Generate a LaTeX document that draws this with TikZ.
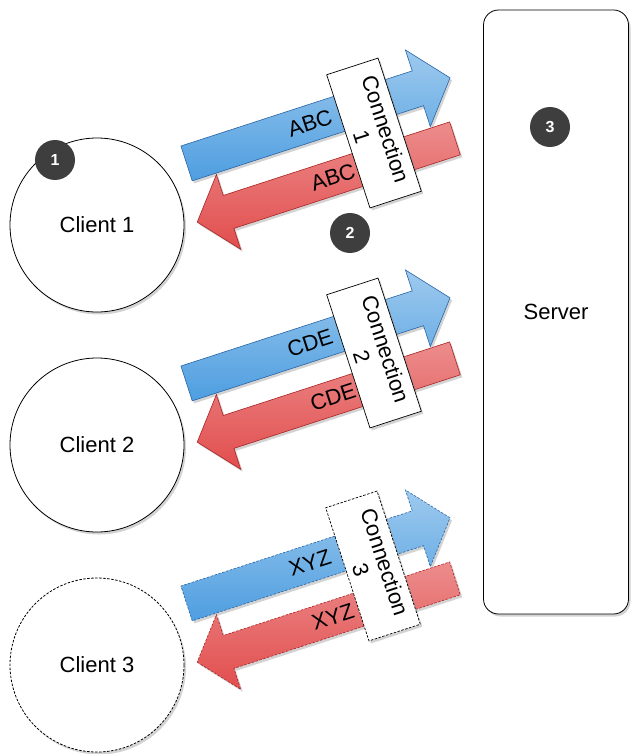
\documentclass[tikz,border=0pt]{standalone}
\usepackage{fontspec}
\setmainfont{Liberation Sans}
\usetikzlibrary{shapes.arrows,shadows}

\definecolor{upblue}{RGB}{78,158,224}
\definecolor{upedge}{RGB}{40,100,165}
\definecolor{dnred}{RGB}{226,78,78}
\definecolor{dnedge}{RGB}{170,35,35}
\definecolor{badgegray}{RGB}{62,62,62}

\begin{document}
\begin{tikzpicture}[
    x=1pt, y=-1pt,
    every node/.style={font=\fontsize{22}{25}\selectfont},
    soft/.style={drop shadow={shadow xshift=2pt, shadow yshift=-2.5pt, opacity=0.35}},
    client/.style={circle, draw, line width=0.8pt, fill=white, minimum size=174pt, soft},
    uparrow/.style={single arrow, draw=upedge, line width=0.6pt, top color=upblue!55, bottom color=upblue,
        single arrow head extend=22pt, single arrow tip angle=100, inner xsep=0pt, inner ysep=18pt, rotate=18, soft},
    dnarrow/.style={single arrow, draw=dnedge, line width=0.6pt, top color=dnred!65, bottom color=dnred,
        single arrow head extend=22pt, single arrow tip angle=100, inner xsep=0pt, inner ysep=17pt, rotate=198, soft},
    tag/.style={rotate=18, inner sep=0pt},
    conn/.style={rectangle, draw, line width=0.7pt, fill=white, rotate=-72, align=center,
        minimum width=140pt, minimum height=54pt, inner sep=1pt, soft},
    badge/.style={circle, fill=badgegray, text=white, minimum size=40pt,
        inner sep=0pt, font=\fontsize{16}{16}\selectfont\bfseries},
    faint/.style={dash pattern=on 2.5pt off 1.5pt},
]
    \useasboundingbox (0,0) rectangle (630,754);

    % SERVER (right)
    \node[rectangle, rounded corners=15pt, draw, line width=0.8pt, fill=white,
        minimum width=145pt, minimum height=604pt, soft] (sv) at (556, 312) {Server};
    \node[badge] (n3) at (550, 127) {3};

    % CLIENTS (left)
    \node[client] (cl1) at (97, 225) {Client 1};
    \node[client] (cl2) at (97, 445) {Client 2};
    \node[client, faint] (cl3) at (97, 665) {Client 3};
    \node[badge] (n1) at (55, 160) {1};

    % CONNECTION 1
    \node[uparrow, minimum height=277pt] (up1) at (311, 123) {};
    \node[dnarrow, minimum height=271pt] (dn1) at (333, 178) {};
    \node[tag] (upl1) at (310, 123) {ABC};
    \node[tag] (dnl1) at (333, 177) {ABC};
    \node[conn] (cn1) at (374, 133) {Connection\\1};
    \node[badge] (n2) at (350, 233) {2};

    % CONNECTION 2
    \node[uparrow, minimum height=277pt] (up2) at (311, 343) {};
    \node[dnarrow, minimum height=271pt] (dn2) at (333, 398) {};
    \node[tag] (upl2) at (310, 343) {CDE};
    \node[tag] (dnl2) at (333, 397) {CDE};
    \node[conn] (cn2) at (374, 353) {Connection\\2};

    % CONNECTION 3 - dashed
    \node[uparrow, faint, minimum height=277pt] (up3) at (311, 563) {};
    \node[dnarrow, faint, minimum height=271pt] (dn3) at (333, 618) {};
    \node[tag] (upl3) at (310, 563) {XYZ};
    \node[tag] (dnl3) at (333, 617) {XYZ};
    \node[conn, faint] (cn3) at (373, 566) {Connection\\3};
\end{tikzpicture}
\end{document}
